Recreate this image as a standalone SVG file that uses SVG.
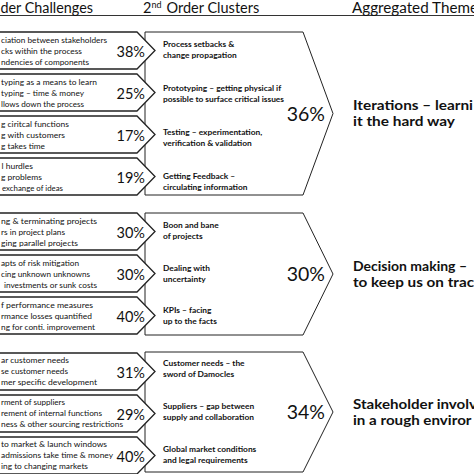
<svg xmlns="http://www.w3.org/2000/svg" width="474" height="474" viewBox="0 0 474 474">
<style>
text{font-family:Lato,"Open Sans","Liberation Sans",sans-serif;fill:#111}
.hd{font-size:14.5px}
.lt{font-size:8.2px}
.pc{font-size:14.5px;text-anchor:end}
.cl{font-size:8.4px;font-weight:bold}
.bp{font-size:19.5px;text-anchor:end}
.th{font-size:13.3px;font-weight:bold}
.arr{fill:#fff;stroke:#222;stroke-width:1.3}
.clu{fill:#fff;stroke:#222;stroke-width:1}
</style>
<rect width="474" height="474" fill="#fff"/>
<g id="headers">
<line x1="0" y1="15.5" x2="474" y2="15.5" stroke="#333" stroke-width="1"/>
<text class="hd" x="0.5" y="13" textLength="92.5" lengthAdjust="spacingAndGlyphs">der Challenges</text>
<text class="hd" x="143" y="13">2<tspan font-size="9" dy="-5.5">nd</tspan><tspan dy="5.5" x="166.5">Order Clusters</tspan></text>
<text class="hd" x="352" y="13" textLength="126" lengthAdjust="spacingAndGlyphs">Aggregated Theme</text>
</g>
<g id="cluster-iterations">
<polygon class="clu" points="145,32 303,32 333,113.5 303,195 145,195"/>
<text class="cl" x="163" y="46.5">Process setbacks &amp;</text>
<text class="cl" x="163" y="57.5">change propagation</text>
<text class="cl" x="163" y="90.5">Prototyping – getting physical if</text>
<text class="cl" x="163" y="101.5">possible to surface critical issues</text>
<text class="cl" x="163" y="134.5">Testing – experimentation,</text>
<text class="cl" x="163" y="145.5">verification &amp; validation</text>
<text class="cl" x="163" y="178.5">Getting Feedback –</text>
<text class="cl" x="163" y="189.5">circulating information</text>
<text class="bp" x="325" y="121">36%</text>
</g>
<g id="cluster-decision">
<polygon class="clu" points="145,213 303,213 333,274 303,335 145,335"/>
<text class="cl" x="163" y="227.5">Boon and bane</text>
<text class="cl" x="163" y="238.5">of projects</text>
<text class="cl" x="163" y="270.5">Dealing with</text>
<text class="cl" x="163" y="281.5">uncertainty</text>
<text class="cl" x="163" y="312.5">KPIs – facing</text>
<text class="cl" x="163" y="323.5">up to the facts</text>
<text class="bp" x="325" y="281">30%</text>
</g>
<g id="cluster-stakeholder">
<polygon class="clu" points="145,352 303,352 333,412 303,472 145,472"/>
<text class="cl" x="163" y="366">Customer needs – the</text>
<text class="cl" x="163" y="377">sword of Damocles</text>
<text class="cl" x="163" y="409">Suppliers – gap between</text>
<text class="cl" x="163" y="420">supply and collaboration</text>
<text class="cl" x="163" y="452">Global market conditions</text>
<text class="cl" x="163" y="463">and legal requirements</text>
<text class="bp" x="325" y="419">34%</text>
</g>
<g id="themes">
<text class="th" x="353" y="109.5" textLength="120" lengthAdjust="spacingAndGlyphs">Iterations – learni</text>
<text class="th" x="353" y="125.5" textLength="102" lengthAdjust="spacingAndGlyphs">it the hard way</text>
<text class="th" x="353" y="270.5" textLength="114" lengthAdjust="spacingAndGlyphs">Decision making –</text>
<text class="th" x="353" y="286.5" textLength="121" lengthAdjust="spacingAndGlyphs">to keep us on trac</text>
<text class="th" x="353" y="409" textLength="124" lengthAdjust="spacingAndGlyphs">Stakeholder involv</text>
<text class="th" x="353" y="425" textLength="118.5" lengthAdjust="spacingAndGlyphs">in a rough enviror</text>
</g>
<g id="challenges-g1">
<g id="c1"><polygon class="arr" points="-5,32 137,32 155,50.5 137,69 -5,69"/>
<text class="lt" x="1" y="43" textLength="106" lengthAdjust="spacingAndGlyphs">ciation between stakeholders</text>
<text class="lt" x="1" y="54" textLength="81" lengthAdjust="spacingAndGlyphs">cks within the process</text>
<text class="lt" x="1" y="65" textLength="88" lengthAdjust="spacingAndGlyphs">ndencies of components</text>
<text class="pc" x="145" y="56.5">38%</text></g>
<g id="c2"><polygon class="arr" points="-5,74 137,74 155,92.5 137,111 -5,111"/>
<text class="lt" x="1" y="85" textLength="96" lengthAdjust="spacingAndGlyphs">typing as a means to learn</text>
<text class="lt" x="1" y="96" textLength="83" lengthAdjust="spacingAndGlyphs">typing – time &amp; money</text>
<text class="lt" x="1" y="107" textLength="83" lengthAdjust="spacingAndGlyphs">llows down the process</text>
<text class="pc" x="145" y="98.5">25%</text></g>
<g id="c3"><polygon class="arr" points="-5,116 137,116 155,134.5 137,153 -5,153"/>
<text class="lt" x="1" y="127" textLength="68" lengthAdjust="spacingAndGlyphs">g ciritcal functions</text>
<text class="lt" x="1" y="138" textLength="64" lengthAdjust="spacingAndGlyphs">g with customers</text>
<text class="lt" x="1" y="149" textLength="44" lengthAdjust="spacingAndGlyphs">g takes time</text>
<text class="pc" x="145" y="140.5">17%</text></g>
<g id="c4"><polygon class="arr" points="-5,158 137,158 155,176.5 137,195 -5,195"/>
<text class="lt" x="1.5" y="169" textLength="31.5" lengthAdjust="spacingAndGlyphs">l hurdles</text>
<text class="lt" x="1" y="180" textLength="41" lengthAdjust="spacingAndGlyphs">g problems</text>
<text class="lt" x="2" y="191" textLength="61" lengthAdjust="spacingAndGlyphs">exchange of ideas</text>
<text class="pc" x="145" y="182.5">19%</text></g>
</g>
<g id="challenges-g2">
<g id="c5"><polygon class="arr" points="-5,213 137,213 155,231.5 137,250 -5,250"/>
<text class="lt" x="1" y="224" textLength="96" lengthAdjust="spacingAndGlyphs">ng &amp; terminating projects</text>
<text class="lt" x="1" y="235" textLength="64" lengthAdjust="spacingAndGlyphs">rs in project plans</text>
<text class="lt" x="1" y="246" textLength="77" lengthAdjust="spacingAndGlyphs">ging parallel projects</text>
<text class="pc" x="145" y="237.5">30%</text></g>
<g id="c6"><polygon class="arr" points="-5,255 137,255 155,273.5 137,292 -5,292"/>
<text class="lt" x="1" y="266" textLength="78" lengthAdjust="spacingAndGlyphs">apts of risk mitigation</text>
<text class="lt" x="1" y="277" textLength="89" lengthAdjust="spacingAndGlyphs">cing unknown unknowns</text>
<text class="lt" x="4" y="288" textLength="93" lengthAdjust="spacingAndGlyphs">investments or sunk costs</text>
<text class="pc" x="145" y="279.5">30%</text></g>
<g id="c7"><polygon class="arr" points="-5,297 137,297 155,315.5 137,334 -5,334"/>
<text class="lt" x="1" y="308" textLength="92" lengthAdjust="spacingAndGlyphs">f performance measures</text>
<text class="lt" x="1" y="319" textLength="91" lengthAdjust="spacingAndGlyphs">rmance losses quantified</text>
<text class="lt" x="1" y="330" textLength="94" lengthAdjust="spacingAndGlyphs">ng for conti. improvement</text>
<text class="pc" x="145" y="321.5">40%</text></g>
</g>
<g id="challenges-g3">
<g id="c8"><polygon class="arr" points="-5,353 137,353 155,371.5 137,390 -5,390"/>
<text class="lt" x="1" y="363" textLength="68" lengthAdjust="spacingAndGlyphs">ar customer needs</text>
<text class="lt" x="1" y="374" textLength="67" lengthAdjust="spacingAndGlyphs">se customer needs</text>
<text class="lt" x="1" y="385" textLength="96" lengthAdjust="spacingAndGlyphs">mer specific development</text>
<text class="pc" x="145" y="377.5">31%</text></g>
<g id="c9"><polygon class="arr" points="-5,395 137,395 155,413.5 137,432 -5,432"/>
<text class="lt" x="1" y="405" textLength="64" lengthAdjust="spacingAndGlyphs">rment of suppliers</text>
<text class="lt" x="1" y="416" textLength="101" lengthAdjust="spacingAndGlyphs">rement of internal functions</text>
<text class="lt" x="1" y="427" textLength="122" lengthAdjust="spacingAndGlyphs">ness &amp; other sourcing restrictions</text>
<text class="pc" x="145" y="419.5">29%</text></g>
<g id="c10"><polygon class="arr" points="-5,437 137,437 155,455.5 137,474 -5,474"/>
<text class="lt" x="1" y="447" textLength="106" lengthAdjust="spacingAndGlyphs">to market &amp; launch windows</text>
<text class="lt" x="1" y="458" textLength="112" lengthAdjust="spacingAndGlyphs">admissions take time &amp; money</text>
<text class="lt" x="1" y="469" textLength="87" lengthAdjust="spacingAndGlyphs">ing to changing markets</text>
<text class="pc" x="145" y="461.5">40%</text></g>
</g>
<g id="connectors"></g>
</svg>
